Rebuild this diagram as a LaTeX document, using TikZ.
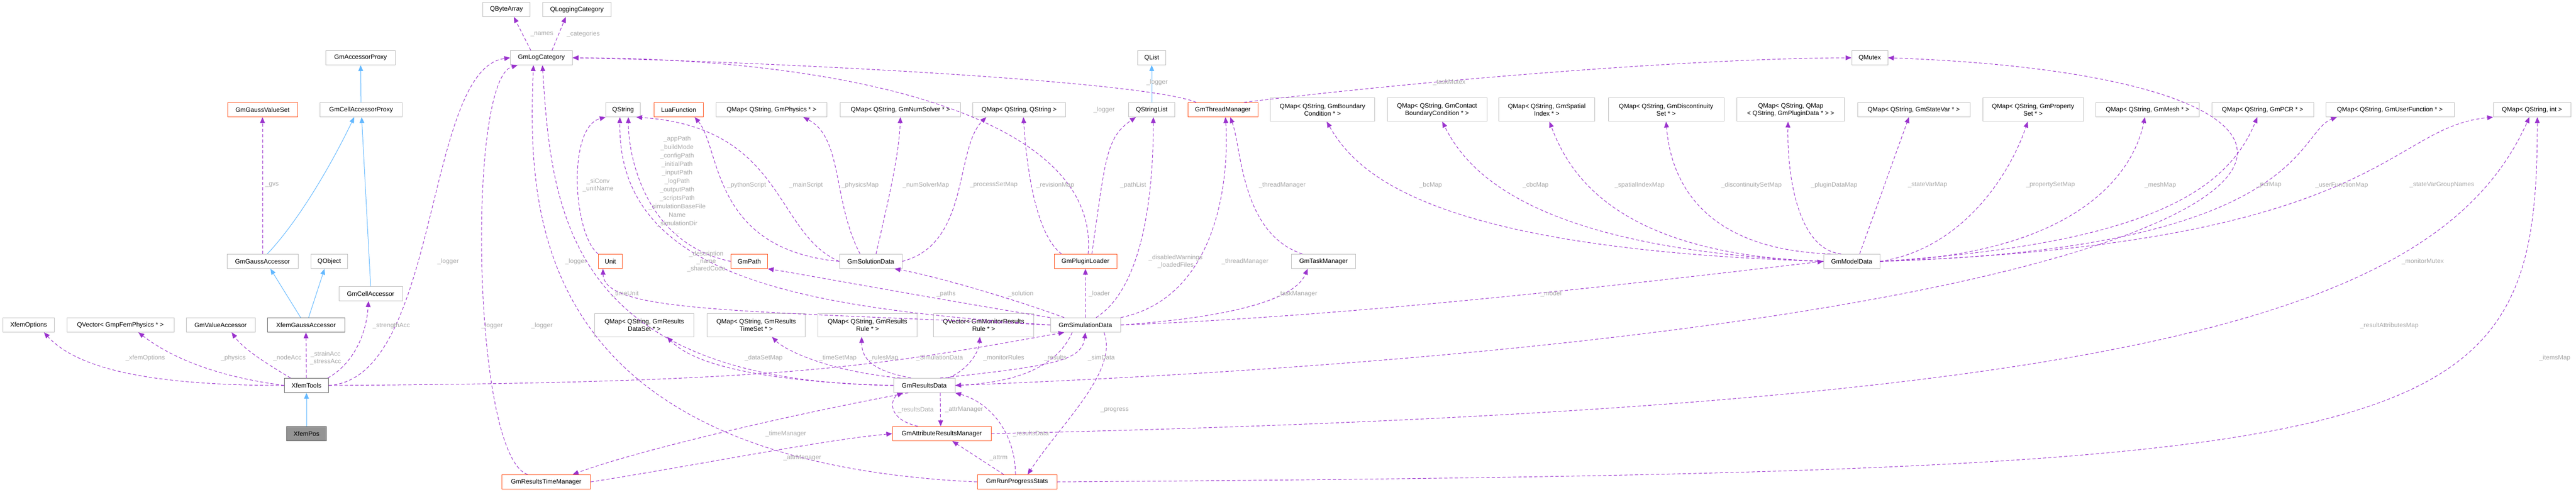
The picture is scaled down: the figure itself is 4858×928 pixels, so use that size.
\documentclass[tikz,border=0pt]{standalone}
\usepackage{fontspec}
\setmainfont{Liberation Sans}
\usetikzlibrary{arrows.meta}
\definecolor{boxgray}{HTML}{BFBFBF}
\definecolor{boxred}{HTML}{FF5722}
\definecolor{boxdark}{HTML}{666666}
\definecolor{mem}{HTML}{9A32CD}
\definecolor{inh}{HTML}{63B8FF}
\definecolor{lblgray}{HTML}{A8A8A8}
\begin{document}
\begin{tikzpicture}[x=1pt,y=1pt,
  box/.style={draw=boxgray,fill=white,line width=1pt,font=\fontsize{12}{14}\selectfont,minimum height=27pt,inner sep=2pt,align=center},
  box2/.style={box,minimum height=44pt},
  red/.style={draw=boxred},
  dark/.style={draw=boxdark},
  memb/.style={draw=mem,line width=1pt,dash pattern=on 6pt off 4pt,-{Triangle[length=11pt,width=9pt,fill=mem]}},
  inhe/.style={draw=inh,line width=1pt,-{Triangle[length=11pt,width=9pt,fill=inh]}},
  lbl/.style={font=\fontsize{12}{14}\selectfont,text=lblgray,align=center,inner sep=1pt}]
\useasboundingbox (0,0) rectangle (4858,-928);
% nodes
\node[box,fill=boxdark!70,draw=boxdark,minimum width=75pt] (xp) at (578,-818) {XfemPos};
\node[box,dark,minimum width=83pt] (xt) at (578,-727) {XfemTools};
\node[box,minimum width=97pt] (xo) at (54,-613) {XfemOptions};
\node[box,minimum width=202pt] (qv) at (227,-613) {QVector< GmpFemPhysics * >};
\node[box,minimum width=130pt] (gva) at (416,-613) {GmValueAccessor};
\node[box,dark,minimum width=146pt] (xga) at (577,-613) {XfemGaussAccessor};
\node[box,minimum width=120pt] (gca) at (699,-554) {GmCellAccessor};
\node[box,minimum width=134pt] (gga) at (495,-493) {GmGaussAccessor};
\node[box,minimum width=69pt] (qo) at (621,-493) {QObject};
\node[box,red,minimum width=132pt] (gvs) at (495,-207) {GmGaussValueSet};
\node[box,minimum width=155pt] (gcap) at (681,-207) {GmCellAccessorProxy};
\node[box,minimum width=131pt] (gap) at (680,-109) {GmAccessorProxy};
\node[box,minimum width=89pt] (qba) at (955,-18) {QByteArray};
\node[box,minimum width=117pt] (glc) at (1021,-109) {GmLogCategory};
\node[box,minimum width=129pt] (qlc) at (1088,-18) {QLoggingCategory};
\node[box,minimum width=65pt] (qs) at (1175,-207) {QString};
\node[box,red,minimum width=93pt] (luaf) at (1280,-207) {LuaFunction};
\node[box,minimum width=209pt] (qmphys) at (1455,-207) {QMap< QString, GmPhysics * >};
\node[box,minimum width=227pt] (qmns) at (1698,-207) {QMap< QString, GmNumSolver * >};
\node[box,minimum width=175pt] (qmqq) at (1922,-207) {QMap< QString, QString >};
\node[box,minimum width=53pt] (qlist) at (2172,-109) {QList};
\node[box,minimum width=87pt] (qsl) at (2172,-207) {QStringList};
\node[box,red,minimum width=132pt] (gtm) at (2306,-207) {GmThreadManager};
\node[box2,minimum width=197pt] (bc) at (2494,-207) {QMap< QString, GmBoundary\\Condition * >};
\node[box2,minimum width=188pt] (cbc) at (2710,-207) {QMap< QString, GmContact\\BoundaryCondition * >};
\node[box2,minimum width=181pt] (sp) at (2917,-207) {QMap< QString, GmSpatial\\Index * >};
\node[box2,minimum width=218pt] (disc) at (3142,-207) {QMap< QString, GmDiscontinuity\\Set * >};
\node[box2,minimum width=203pt] (plug) at (3377,-207) {QMap< QString, QMap\\< QString, GmPluginData * > >};
\node[box,minimum width=212pt] (stv) at (3609,-207) {QMap< QString, GmStateVar * >};
\node[box2,minimum width=190pt] (prop) at (3834,-207) {QMap< QString, GmProperty\\Set * >};
\node[box,minimum width=195pt] (mesh) at (4050,-207) {QMap< QString, GmMesh * >};
\node[box,minimum width=192pt] (pcr) at (4267,-207) {QMap< QString, GmPCR * >};
\node[box,minimum width=242pt] (uf) at (4507,-207) {QMap< QString, GmUserFunction * >};
\node[box,minimum width=146pt] (qmi) at (4775,-207) {QMap< QString, int >};
\node[box,minimum width=68pt] (qmutex) at (3526,-109) {QMutex};
\node[box,red,minimum width=45pt] (unit) at (1151,-493) {Unit};
\node[box,red,minimum width=69pt] (gp) at (1413,-493) {GmPath};
\node[box,minimum width=118pt] (gsol) at (1642,-493) {GmSolutionData};
\node[box,red,minimum width=118pt] (gpl) at (2047,-493) {GmPluginLoader};
\node[box,minimum width=121pt] (gtmgr) at (2496,-493) {GmTaskManager};
\node[box,minimum width=106pt] (gmd) at (3492,-493) {GmModelData};
\node[box,minimum width=132pt] (gsd) at (2047,-613) {GmSimulationData};
\node[box2,minimum width=187pt] (dset) at (1215,-613) {QMap< QString, GmResults\\DataSet * >};
\node[box2,minimum width=185pt] (tset) at (1426,-613) {QMap< QString, GmResults\\TimeSet * >};
\node[box2,minimum width=187pt] (rule) at (1636,-613) {QMap< QString, GmResults\\Rule * >};
\node[box2,minimum width=189pt] (mon) at (1855,-613) {QVector< GmMonitorResults\\Rule * >};
\node[box,minimum width=116pt] (grd) at (1743,-727) {GmResultsData};
\node[box,red,minimum width=186pt] (garm) at (1776,-818) {GmAttributeResultsManager};
\node[box,red,minimum width=167pt] (grtm) at (1030,-909) {GmResultsTimeManager};
\node[box,red,minimum width=150pt] (grps) at (1918,-909) {GmRunProgressStats};
% inheritance
\draw[inhe] (xp) -- (xt);
\draw[inhe] ([xshift=-10pt]xga.north) -- ([xshift=15pt]gga.south);
\draw[inhe] ([xshift=5pt]xga.north) -- ([xshift=-9pt]qo.south);
\draw[inhe] ([xshift=9pt]gga.north) .. controls (560,-420) and (620,-320) .. ([xshift=-13pt]gcap.south);
\draw[inhe] (gca.north) -- ([xshift=1pt]gcap.south);
\draw[inhe] (gcap) -- (gap);
\draw[inhe] (qsl) -- (qlist);
% members
\draw[memb] (xt.west) .. controls (300,-727) and (150,-700) .. ([xshift=29pt]xo.south);
\draw[memb] (xt.west) .. controls (420,-712) and (330,-680) .. ([xshift=34pt]qv.south);
\draw[memb] ([xshift=-30pt]xt.north) .. controls (510,-690) and (460,-660) .. ([xshift=21pt]gva.south);
\draw[memb] (xt.north) -- (xga.south);
\draw[memb] ([xshift=40pt]xt.north) .. controls (660,-690) and (690,-640) .. ([xshift=-4pt]gca.south);
\draw[memb] (xt.east) .. controls (830,-715) and (800,-130) .. (glc.west);
\draw[memb] (xt.east) .. controls (1500,-722) and (1650,-690) .. ([xshift=-40pt]gsd.south);
\draw[memb] (gga.north) -- (gvs.south);
\draw[memb] ([xshift=-20pt]glc.north) -- ([xshift=14pt]qba.south);
\draw[memb] ([xshift=20pt]glc.north) -- ([xshift=-21pt]qlc.south);
\draw[memb] ([xshift=-35pt]grtm.north) .. controls (890,-860) and (880,-150) .. ([xshift=-45pt]glc.south);
\draw[memb] (grps.west) .. controls (1000,-870) and (995,-400) .. ([xshift=-15pt]glc.south);
\draw[memb] (grd.west) .. controls (1070,-720) and (1040,-400) .. ([xshift=2pt]glc.south);
\draw[memb] ([xshift=-50pt]gtm.north) .. controls (2150,-150) and (1400,-115) .. (glc.east);
\draw[memb] ([xshift=5pt]gpl.north) .. controls (2075,-220) and (1600,-110) .. (glc.east);
\draw[memb] (unit.north west) .. controls (1080,-440) and (1070,-240) .. (qs.south west);
\draw[memb] (gp.west) .. controls (1220,-460) and (1185,-300) .. ([xshift=10pt]qs.south);
\draw[memb] (gsd.west) .. controls (1500,-580) and (1165,-520) .. ([xshift=-6pt]qs.south);
\draw[memb] (gsol.west) .. controls (1340,-470) and (1360,-280) .. ([xshift=30pt]luaf.south);
\draw[memb] (gsol.west) .. controls (1460,-440) and (1480,-240) .. ([xshift=25pt]qs.south);
\draw[memb] ([xshift=-20pt]gsol.north) .. controls (1570,-380) and (1590,-260) .. ([xshift=60pt]qmphys.south);
\draw[memb] ([xshift=10pt]gsol.north) .. controls (1670,-400) and (1695,-300) .. (qmns.south);
\draw[memb] (gsol.east) .. controls (1830,-460) and (1800,-280) .. ([xshift=-62pt]qmqq.south);
\draw[memb] ([xshift=-45pt]gpl.north) .. controls (1950,-440) and (1935,-300) .. ([xshift=8pt]qmqq.south);
\draw[memb] ([xshift=12pt]gpl.north) .. controls (2085,-300) and (2085,-260) .. ([xshift=-30pt]qsl.south);
\draw[memb] ([xshift=20pt]gsd.north) .. controls (2160,-540) and (2175,-350) .. ([xshift=3pt]qsl.south);
\draw[memb] (gsd.north east) .. controls (2300,-560) and (2318,-330) .. ([xshift=5pt]gtm.south);
\draw[memb] ([xshift=-40pt]gtmgr.north) .. controls (2340,-440) and (2342,-280) .. ([xshift=14pt]gtm.south);
\draw[memb] (gsd.east) .. controls (2300,-600) and (2440,-570) .. ([xshift=-30pt]gtmgr.south);
\draw[memb] (gsd.north) -- (gpl.south);
\draw[memb] (gsd.east) .. controls (2600,-595) and (3200,-520) .. (gmd.west);
\draw[memb] (gsd.north west) .. controls (1800,-570) and (1500,-515) .. (gp.south east);
\draw[memb] ([xshift=-40pt]gsd.north) .. controls (1900,-560) and (1760,-520) .. ([xshift=45pt]gsol.south);
\draw[memb] (gsd.west) .. controls (1400,-585) and (1140,-590) .. ([xshift=-14pt]unit.south);
\draw[memb] ([xshift=30pt]grd.north) .. controls (1990,-690) and (2040,-680) .. (gsd.south);
\draw[memb] ([xshift=-25pt]gsd.south) .. controls (1990,-700) and (1900,-722) .. (grd.east);
\draw[memb] (grd.west) .. controls (1500,-722) and (1320,-700) .. ([xshift=43pt]dset.south);
\draw[memb] ([xshift=-45pt]grd.north) .. controls (1560,-700) and (1480,-660) .. ([xshift=30pt]tset.south);
\draw[memb] ([xshift=-25pt]grd.north) .. controls (1650,-700) and (1625,-680) .. ([xshift=-11pt]rule.south);
\draw[memb] ([xshift=45pt]grd.north) .. controls (1820,-700) and (1845,-670) .. ([xshift=-7pt]mon.south);
\draw[memb] ([xshift=-30pt]grd.south) .. controls (1500,-780) and (1200,-850) .. ([xshift=50pt]grtm.north);
\draw[memb] ([xshift=30pt]grd.south) -- ([xshift=-2pt]garm.north);
\draw[memb] ([xshift=-45pt]garm.north) .. controls (1670,-790) and (1680,-750) .. ([xshift=-40pt]grd.south);
\draw[memb] (grtm.east) .. controls (1300,-880) and (1550,-830) .. (garm.west);
\draw[memb] ([xshift=-25pt]grps.north) -- ([xshift=20pt]garm.south);
\draw[memb] ([xshift=-3pt]grps.north) .. controls (1915,-820) and (1870,-760) .. (grd.south east);
\draw[memb] ([xshift=35pt]gsd.south) .. controls (2110,-700) and (2000,-800) .. ([xshift=20pt]grps.north);
\draw[memb] (grps.east) .. controls (4600,-890) and (4785,-850) .. ([xshift=10pt]qmi.south);
\draw[memb] (garm.east) .. controls (4000,-770) and (4600,-600) .. ([xshift=-5pt]qmi.south);
\draw[memb] (grd.east) .. controls (4500,-620) and (4700,-150) .. (qmutex.east);
\draw[memb] ([xshift=40pt]gtm.north) .. controls (2700,-150) and (3200,-110) .. (qmutex.west);
\draw[memb] (gmd.west) .. controls (2700,-470) and (2560,-330) .. ([xshift=8pt]bc.south);
\draw[memb] (gmd.west) .. controls (2900,-470) and (2770,-330) .. ([xshift=10pt]cbc.south);
\draw[memb] (gmd.west) .. controls (3050,-480) and (2960,-330) .. ([xshift=5pt]sp.south);
\draw[memb] ([xshift=-40pt]gmd.north) .. controls (3200,-470) and (3150,-330) .. (disc.south);
\draw[memb] ([xshift=-20pt]gmd.north) .. controls (3390,-470) and (3370,-330) .. ([xshift=-5pt]plug.south);
\draw[memb] ([xshift=15pt]gmd.north) -- ([xshift=-9pt]stv.south);
\draw[memb] (gmd.east) .. controls (3700,-470) and (3790,-330) .. ([xshift=-10pt]prop.south);
\draw[memb] (gmd.east) .. controls (3900,-480) and (4020,-340) .. ([xshift=-5pt]mesh.south);
\draw[memb] (gmd.east) .. controls (4050,-460) and (4200,-360) .. ([xshift=-10pt]pcr.south);
\draw[memb] (gmd.east) .. controls (4350,-470) and (4330,-250) .. ([xshift=-100pt]uf.south);
\draw[memb] (gmd.east) .. controls (4500,-460) and (4500,-240) .. (qmi.south west);
% labels
\node[lbl] (l1) at (513,-349) {\_gvs};
\node[lbl] (l2) at (274,-675) {\_xfemOptions};
\node[lbl] (l3) at (440,-675) {\_physics};
\node[lbl] (l4) at (542,-675) {\_nodeAcc};
\node[lbl] (l5) at (614,-675) {\_strainAcc\\\_stressAcc};
\node[lbl] (l6) at (738,-614) {\_strengthAcc};
\node[lbl] (l7) at (845,-493) {\_logger};
\node[lbl] (l8) at (928,-614) {\_logger};
\node[lbl] (l9) at (1022,-64) {\_names};
\node[lbl] (l10) at (1100,-64) {\_categories};
\node[lbl] (l11) at (1128,-349) {\_siConv\\\_unitName};
\node[lbl,font=\fontsize{12}{16}\selectfont] (l12) at (1277,-349) {\_appPath\\\_buildMode\\\_configPath\\\_initialPath\\\_inputPath\\\_logPath\\\_outputPath\\\_scriptsPath\\\_simulationBaseFile\\Name\\\_simulationDir\\...};
\node[lbl] (l13) at (1408,-349) {\_pythonScript};
\node[lbl] (l14) at (1520,-349) {\_mainScript};
\node[lbl] (l15) at (1622,-349) {\_physicsMap};
\node[lbl] (l16) at (1746,-349) {\_numSolverMap};
\node[lbl] (l17) at (1874,-349) {\_processSetMap};
\node[lbl] (l18) at (1990,-349) {\_revisionMap};
\node[lbl] (l19) at (1086,-493) {\_logger};
\node[lbl] (l20) at (1332,-493) {\_description\\\_name\\\_sharedCode};
\node[lbl] (l21) at (1179,-554) {\_timeUnit};
\node[lbl] (l22) at (1784,-554) {\_paths};
\node[lbl] (l23) at (1925,-554) {\_solution};
\node[lbl] (l24) at (1022,-614) {\_logger};
\node[lbl] (l25) at (1440,-675) {\_dataSetMap};
\node[lbl] (l26) at (1580,-675) {\_timeSetMap};
\node[lbl] (l27) at (1666,-675) {\_rulesMap};
\node[lbl] (l28) at (1772,-675) {\_SimulationData};
\node[lbl] (l29) at (1893,-675) {\_monitorRules};
\node[lbl] (l30) at (1990,-675) {\_results};
\node[lbl] (l31) at (2077,-675) {\_simData};
\node[lbl] (l32) at (1727,-773) {\_resultsData};
\node[lbl] (l33) at (1818,-773) {\_attrManager};
\node[lbl] (l34) at (1482,-818) {\_timeManager};
\node[lbl] (l35) at (1944,-818) {\_resultsData};
\node[lbl] (l36) at (1513,-864) {\_attrManager};
\node[lbl] (l37) at (1883,-864) {\_attrm};
\node[lbl] (l38) at (2182,-155) {\_logger};
\node[lbl] (l39) at (2082,-207) {\_logger};
\node[lbl] (l40) at (2137,-349) {\_pathList};
\node[lbl] (l41) at (2418,-349) {\_threadManager};
\node[lbl] (l42) at (2217,-493) {\_disabledWarnings\\\_loadedFiles};
\node[lbl] (l43) at (2348,-493) {\_threadManager};
\node[lbl] (l44) at (2073,-554) {\_loader};
\node[lbl] (l45) at (2446,-554) {\_taskManager};
\node[lbl] (l46) at (2925,-554) {\_model};
\node[lbl] (l47) at (2102,-774) {\_progress};
\node[lbl] (l48) at (2733,-155) {\_taskMutex};
\node[lbl] (l49) at (2698,-349) {\_bcMap};
\node[lbl] (l50) at (2896,-349) {\_cbcMap};
\node[lbl] (l51) at (3092,-349) {\_spatialIndexMap};
\node[lbl] (l52) at (3303,-349) {\_discontinuitySetMap};
\node[lbl] (l53) at (3459,-349) {\_pluginDataMap};
\node[lbl] (l54) at (3635,-349) {\_stateVarMap};
\node[lbl] (l55) at (3867,-349) {\_propertySetMap};
\node[lbl] (l56) at (4074,-349) {\_meshMap};
\node[lbl] (l57) at (4279,-349) {\_pcrMap};
\node[lbl] (l58) at (4416,-349) {\_userFunctionMap};
\node[lbl] (l59) at (4605,-349) {\_stateVarGroupNames};
\node[lbl] (l60) at (4569,-493) {\_monitorMutex};
\node[lbl] (l61) at (4506,-614) {\_resultAttributesMap};
\node[lbl] (l62) at (4818,-675) {\_itemsMap};
\end{tikzpicture}
\end{document}
